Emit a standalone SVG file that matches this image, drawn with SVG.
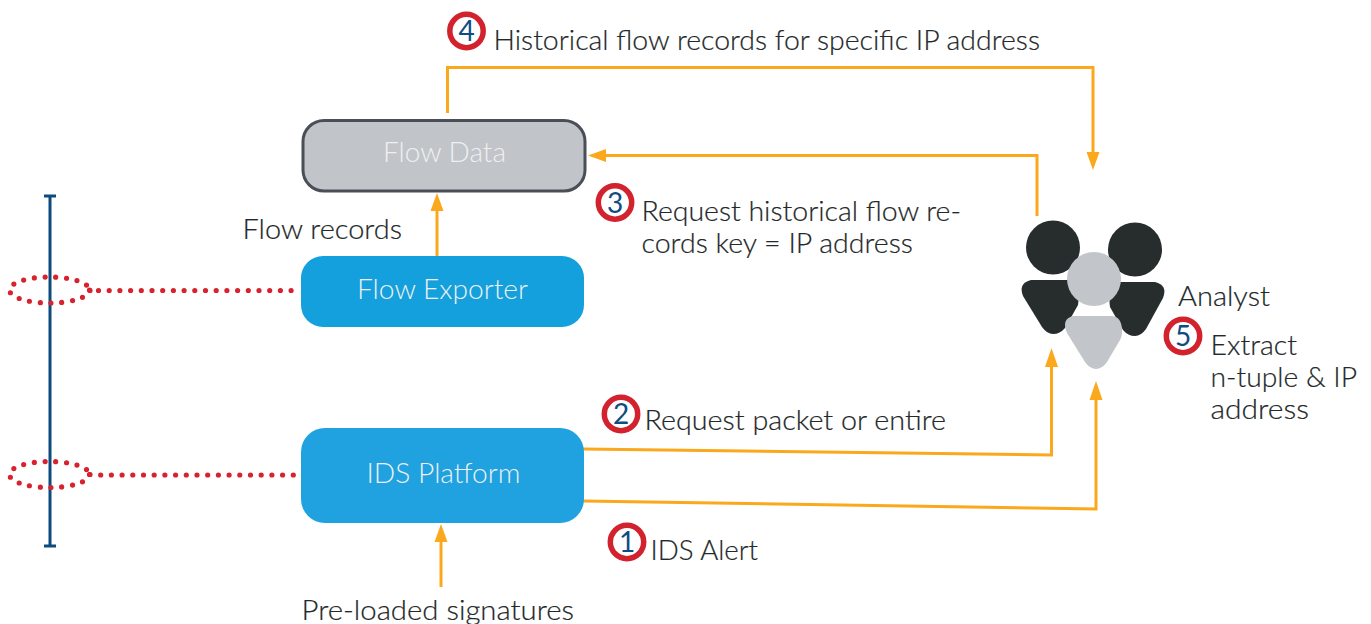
<svg xmlns="http://www.w3.org/2000/svg" width="1371" height="624" viewBox="0 0 1371 624">
<style>
text{font-family:"Lato","Liberation Sans",sans-serif;font-size:27px;font-weight:300;fill:#232829;stroke:#232829;stroke-width:0.200px}
.w{fill:#eef0f2;stroke:none}
.n{fill:#0f4c81;stroke:none;text-anchor:middle;font-size:28px;font-weight:400}
.b{fill:#fff;stroke:#d1222d;stroke-width:5.500px}
.o{fill:none;stroke:#fba81c;stroke-width:3px}
.h{fill:#fba81c}
.d{fill:none;stroke:#d8222e;stroke-width:5.200px;stroke-linecap:round;stroke-dasharray:0 10.7}
.k{fill:#272d2d}.g{fill:#c2c5c9}
</style>
<g id="bus"><path d="M50 196V546" fill="none" stroke="#0d4a7d" stroke-width="3"/><path d="M44 196H56M44 546H56" fill="none" stroke="#0d4a7d" stroke-width="3"/></g>
<g id="tap-1"><ellipse cx="49.500" cy="290" rx="40" ry="13" class="d"/><path d="M90 290.500H301" class="d" style="stroke-dasharray:0 8.500 0 10.700 0 10.700 0 10.700 0 10.700 0 10.700 0 10.700 0 10.700 0 10.700 0 10.700 0 10.700 0 10.700 0 10.700 0 10.700 0 10.700 0 10.700 0 10.700 0 10.700 0 10.700 0 10.700 0 30"/></g>
<g id="tap-2"><ellipse cx="49.500" cy="474.500" rx="40" ry="13" class="d"/><path d="M90 474.500L101 475H301" class="d"/></g>
<g id="connectors">
<path class="o" d="M447.500 113V67.500H1093V155"/><path class="h" d="M1086.500 152H1099.500L1093 170Z"/>
<path class="o" d="M1037 216V155.500H604"/><path class="h" d="M588 155.500L606 149V162Z"/>
<path class="o" d="M437 256V210"/><path class="h" d="M437 193L443.500 211H430.500Z"/>
<path class="o" d="M583 449L1051.500 455V365"/><path class="h" d="M1051.500 348L1058 367H1045Z"/>
<path class="o" d="M583 501L1096 509V398"/><path class="h" d="M1096 381L1102.500 400H1089.500Z"/>
<path class="o" d="M441 587V540"/><path class="h" d="M441 524L447.500 542H434.500Z"/>
</g>
<g id="flow-data"><rect x="303" y="120.500" width="282" height="70.500" rx="21" fill="#c1c4c8" stroke="#4a4e57" stroke-width="3"/><text x="383" y="161.500" class="w" textLength="123" lengthAdjust="spacingAndGlyphs">Flow Data</text></g>
<g id="flow-exporter"><rect x="301" y="256" width="283" height="71" rx="22" fill="#14a0dc"/><text x="357" y="298.500" class="w" textLength="171" lengthAdjust="spacingAndGlyphs">Flow Exporter</text></g>
<g id="ids-platform"><rect x="301" y="428" width="283" height="95" rx="24" fill="#1fa2df"/><text x="366.500" y="482.500" class="w" textLength="154" lengthAdjust="spacingAndGlyphs">IDS Platform</text></g>
<g id="analyst">
<circle cx="1053" cy="247.500" r="27" class="k"/><circle cx="1135" cy="249.500" r="27" class="k"/>
<path class="k" d="M1031 280H1068Q1077 281 1078 290Q1079 300 1078 305L1065 328Q1060 334 1053 334Q1047 334 1042 327L1023 296Q1018 283 1031 280Z"/>
<path class="k" d="M1155 282H1120Q1111 283 1110 292Q1109 302 1110 307L1123 330Q1128 336 1135 336Q1141 336 1146 329L1163 298Q1168 285 1155 282Z"/>
<circle cx="1094" cy="279" r="27" class="g"/>
<path class="g" d="M1073 316H1112Q1122 317 1122 331Q1122 337 1120 340L1107 362Q1102 369 1096 369Q1090 369 1085 362L1067 333Q1061 319 1073 316Z"/>
<text x="1178" y="305.500" textLength="92" lengthAdjust="spacingAndGlyphs">Analyst</text>
</g>
<g id="badge-4"><circle cx="466.500" cy="31" r="16.700" class="b"/><text x="466.500" y="41" class="n">4</text></g>
<g id="badge-3"><circle cx="615" cy="202.500" r="16.700" class="b"/><text x="615" y="212.500" class="n">3</text></g>
<g id="badge-2"><circle cx="621" cy="414" r="16.700" class="b"/><text x="621" y="424" class="n">2</text></g>
<g id="badge-1"><circle cx="627" cy="542" r="16.700" class="b"/><text x="627" y="552" class="n">1</text></g>
<g id="badge-5"><circle cx="1183" cy="336" r="16.700" class="b"/><text x="1183" y="346" class="n">5</text></g>
<g id="labels">
<text x="493.500" y="49.500" textLength="546.500" lengthAdjust="spacingAndGlyphs">Historical flow records for specific IP address</text>
<text x="641.500" y="220.500" textLength="319.500" lengthAdjust="spacingAndGlyphs">Request historical flow re-</text>
<text x="641.500" y="252.500" textLength="271.500" lengthAdjust="spacingAndGlyphs">cords key = IP address</text>
<text x="242.500" y="238.500" textLength="159.500" lengthAdjust="spacingAndGlyphs">Flow records</text>
<text x="644.500" y="429.500" textLength="301.500" lengthAdjust="spacingAndGlyphs">Request packet or entire</text>
<text x="650.500" y="559.500" textLength="107.500" lengthAdjust="spacingAndGlyphs">IDS Alert</text>
<text x="301.500" y="619.500" textLength="272.500" lengthAdjust="spacingAndGlyphs">Pre-loaded signatures</text>
<text x="1210.500" y="354.500" textLength="86.500" lengthAdjust="spacingAndGlyphs">Extract</text>
<text x="1210.500" y="386.500" textLength="146.500" lengthAdjust="spacingAndGlyphs">n-tuple &amp; IP</text>
<text x="1210.500" y="418.500" textLength="98.500" lengthAdjust="spacingAndGlyphs">address</text>
</g>
</svg>
